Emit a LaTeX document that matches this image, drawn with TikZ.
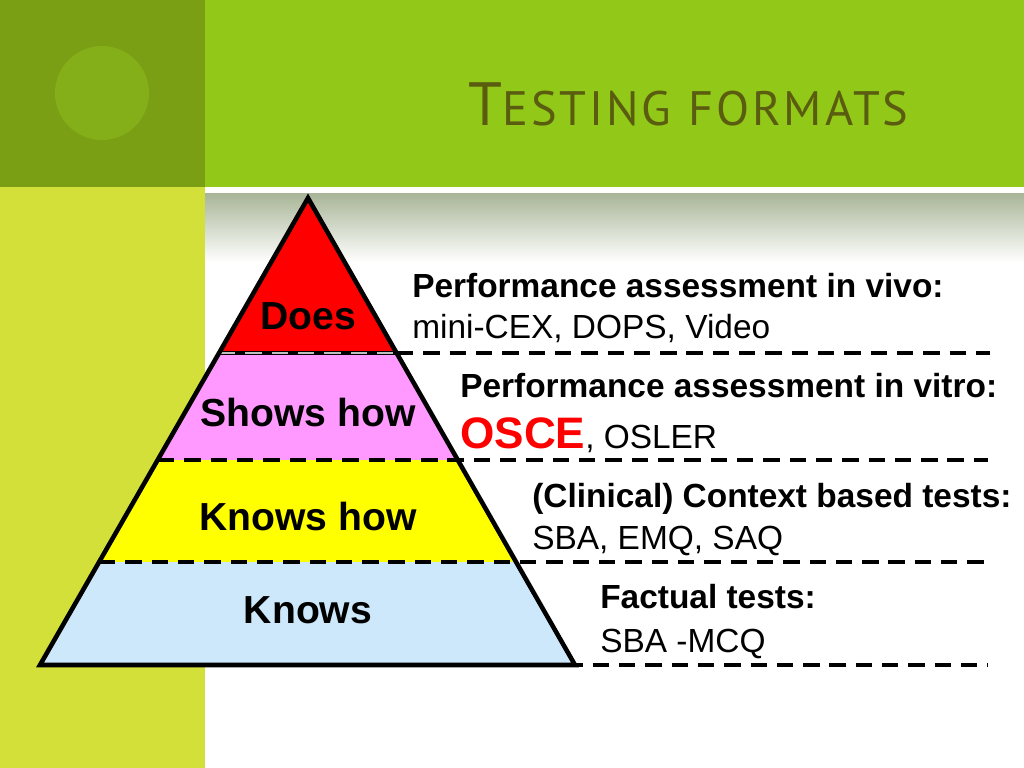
\documentclass[tikz,border=0pt]{standalone}
\usepackage{fontspec}
\setmainfont{Liberation Sans}
\newfontfamily\titlefont{PT Sans}
\usetikzlibrary{positioning}
\definecolor{slidedark}{HTML}{7A9E14}
\definecolor{slidedot}{HTML}{84AF18}
\definecolor{slidegreen}{HTML}{92C918}
\definecolor{slidelime}{HTML}{D3E03A}
\definecolor{slidetitle}{HTML}{5A5C10}
\definecolor{slidefade}{HTML}{A8B596}
\definecolor{doesred}{HTML}{FF0000}
\definecolor{showspink}{HTML}{FF99FF}
\definecolor{knowshowyellow}{HTML}{FFFF00}
\definecolor{knowsblue}{HTML}{CCE8FA}

\begin{document}
\begin{tikzpicture}[
    x={(0.703pt,0)}, y={(0,-0.703pt)},
    level/.style={font=\fontsize{27.5}{30}\selectfont\bfseries, inner sep=0pt},
    head/.style={anchor=base west, inner sep=0pt,
                 font=\fontsize{23.5}{28}\selectfont\bfseries},
    sub/.style={anchor=base west, inner sep=0pt,
                font=\fontsize{23.5}{28}\selectfont},
    rung/.style={line width=2.8pt, dash pattern=on 11.5pt off 7pt},
    rim/.style={line width=3.2pt, line join=miter}
]
  \useasboundingbox (0,0) rectangle (1024,768);
  % slide background
  \fill[slidedark] (0,0) rectangle (205,187);
  \fill[slidedot] (102,93) circle [radius=47];
  \fill[slidegreen] (205,0) rectangle (1024,187);
  \fill[slidelime] (0,187) rectangle (205,768);
  \shade[top color=slidefade, bottom color=white] (205,193) rectangle (1024,262);
  % title
  \node[anchor=base west, inner sep=0pt, text=slidetitle] (title) at (468,125)
    {\titlefont\fontsize{43}{48}\selectfont T\fontsize{34}{40}\selectfont
     \addfontfeature{LetterSpace=6}ESTING\hspace{0.35em}FORMATS};
  % pyramid corners and rungs
  \coordinate (apex) at (308,198);
  \coordinate (l1) at (219,353);  \coordinate (r1) at (397,353);
  \coordinate (l2) at (158,460);  \coordinate (r2) at (458,460);
  \coordinate (l3) at (99,562);   \coordinate (r3) at (517,562);
  \coordinate (l4) at (40,665);   \coordinate (r4) at (575,665);
  % layers
  \fill[doesred] (apex) -- (r1) -- (l1) -- cycle;
  \fill[showspink] (l1) -- (r1) -- (r2) -- (l2) -- cycle;
  \fill[knowshowyellow] (l2) -- (r2) -- (r3) -- (l3) -- cycle;
  \fill[knowsblue] (l3) -- (r3) -- (r4) -- (l4) -- cycle;
  % rungs
  \draw[line width=3.2pt] (l1) -- (r1);
  \draw[rung, black!25, line width=1.4pt] (l1) -- (r1);
  \draw[rung] (r1) -- (990,353);
  \draw[rung] (l2) -- (988,460);
  \draw[rung] (l3) -- (990,562);
  \draw[rung] (l4) -- (988,665);
  % outline
  \draw[rim] (apex) -- (l4) -- (r4) -- cycle;
  % level labels
  \node[level] (does) at (308,316) {Does};
  \node[level] (shows) at (308,413) {Shows how};
  \node[level] (knowshow) at (308,517) {Knows how};
  \node[level] (knows) at (308,610) {Knows};
  % test formats
  \node[head] (vivo) at (412,297) {Performance assessment in vivo:};
  \node[sub] (vivoex) at (412,338) {mini-CEX, DOPS, Video};
  \node[head] (vitro) at (460,397) {Performance assessment in vitro:};
  \node[sub] (vitroex) at (460,448)
    {{\color{doesred}\bfseries\fontsize{31}{34}\selectfont OSCE}, OSLER};
  \node[head] (context) at (532,507) {(Clinical) Context based tests:};
  \node[sub] (contextex) at (532,549) {SBA, EMQ, SAQ};
  \node[head] (fact) at (600,608) {Factual tests:};
  \node[sub] (factex) at (600,652) {SBA -MCQ};
\end{tikzpicture}
\end{document}
